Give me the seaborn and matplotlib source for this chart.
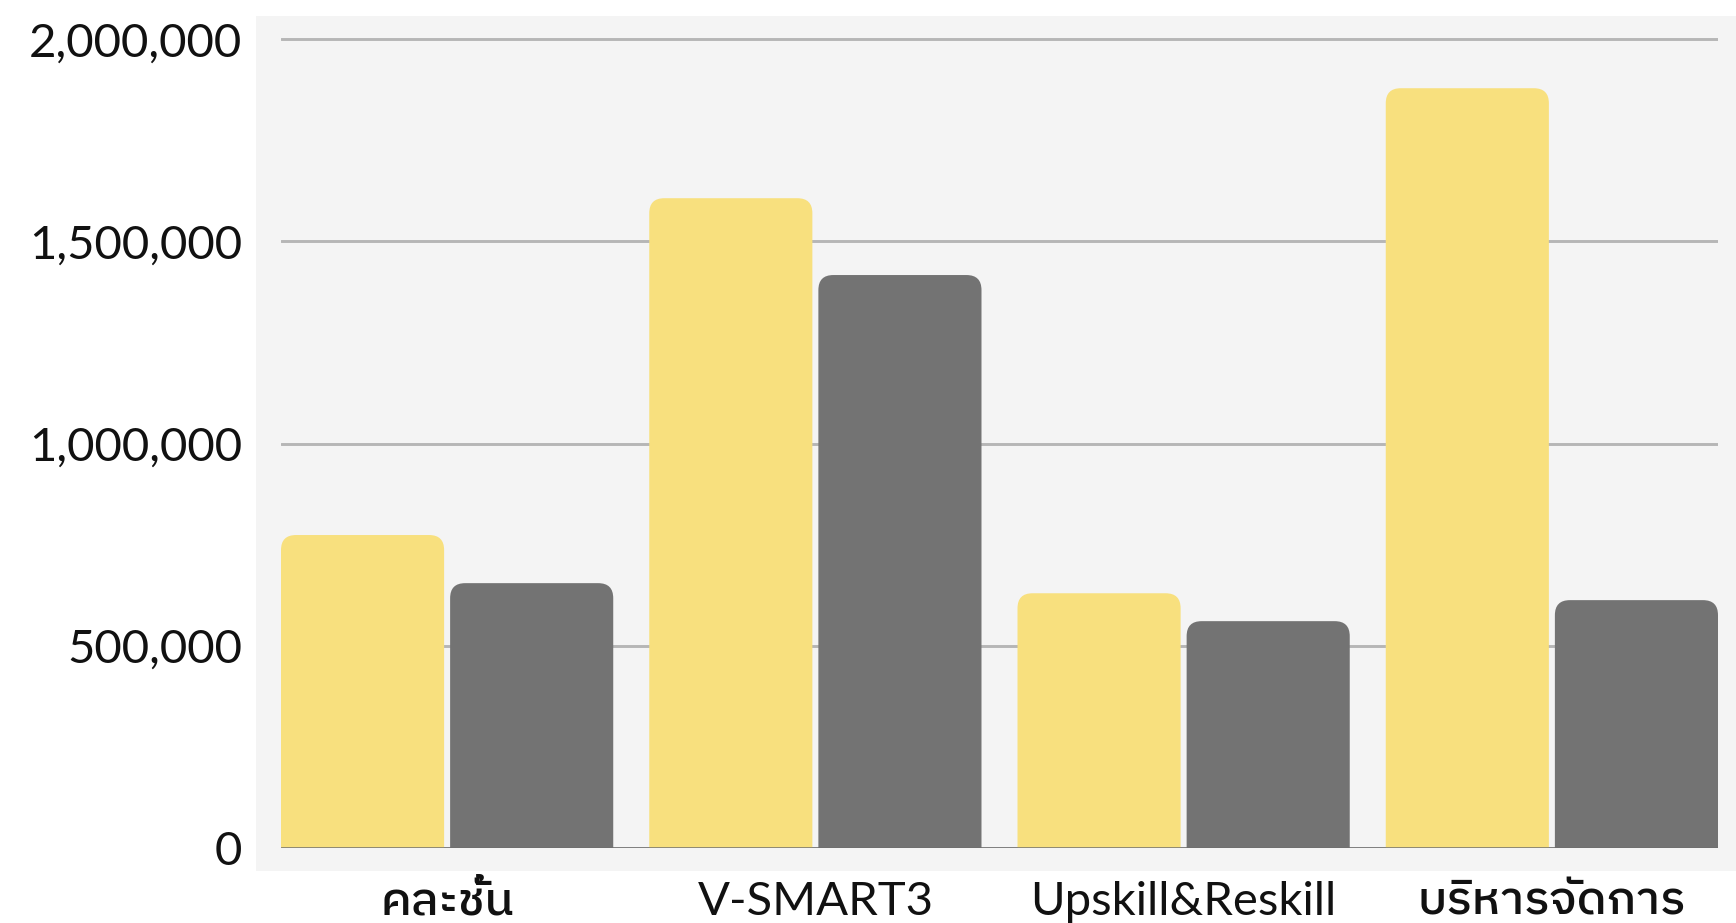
import numpy as np
import pandas as pd
import matplotlib
matplotlib.use("Agg")
import matplotlib.pyplot as plt
import seaborn as sns
from matplotlib import font_manager as fm
from matplotlib.ft2font import FT2Font
from matplotlib.patches import FancyBboxPatch, Rectangle
from matplotlib.ticker import FuncFormatter

# ---------------- data ----------------
categories = ["คละชั้น", "V-SMART3", "Upskill&Reskill", "บริหารจัดการ"]
series_names = ["ชุดที่ 1", "ชุดที่ 2"]
series_1 = [774000, 1607000, 630000, 1879000]
series_2 = [655000, 1417000, 561000, 613000]
y_ticks = [0, 500000, 1000000, 1500000, 2000000]
colors = ["#F8E07E", "#737373"]

# ---------------- fonts ----------------
def find_thai_family():
    best = None
    for f in fm.fontManager.ttflist:
        try:
            cm = FT2Font(f.fname).get_charmap()
        except Exception:
            continue
        if 0x0E04 in cm and 0x0E0A in cm and 0x0E19 in cm:
            score = 0
            if "thai" in f.name.lower():
                score += 2
            if "looped" in f.name.lower():
                score -= 1
            if best is None or score > best[0]:
                best = (score, f.name)
    return best[1] if best else "DejaVu Sans"

thai_family = find_thai_family()
families = ["Lato", thai_family, "DejaVu Sans"]

sns.set_theme(style="white")
plt.rcParams["font.family"] = families

# ---------------- figure ----------------
W, H = 1736, 923
fig = plt.figure(figsize=(W / 100, H / 100), dpi=100)

# light grey plotting panel (behind the axes)
fig.patches.append(Rectangle((256 / W, (H - 871) / H), (W - 256) / W, (871 - 16) / H,
                             transform=fig.transFigure, facecolor="#F4F4F4",
                             edgecolor="none", zorder=-5))

ax_left, ax_right = 281, 1718
ax_bottom, ax_top = 848, 20
ax = fig.add_axes([ax_left / W, (H - ax_bottom) / H,
                   (ax_right - ax_left) / W, (ax_bottom - ax_top) / H])
ax.set_facecolor("none")
ax.set_zorder(2)

df = pd.DataFrame({
    "category": categories * 2,
    "series": [series_names[0]] * 4 + [series_names[1]] * 4,
    "value": series_1 + series_2,
})

sns.barplot(data=df, x="category", y="value", hue="series", order=categories,
            hue_order=series_names, palette=colors, saturation=1, width=0.9185,
            gap=0.0355, legend=False, ax=ax, linewidth=0, edgecolor="none",
            zorder=2)

# x-limits from the bars themselves
bars = [p for p in ax.patches]
x0 = min(p.get_x() for p in bars)
x1 = max(p.get_x() + p.get_width() for p in bars)
ax.set_xlim(x0, x1)

px_per_unit = (ax_bottom - 39.3) / y_ticks[-1]
ax.set_ylim(0, y_ticks[-1] + (39.3 - ax_top) / px_per_unit)

# rounded tops
xpp = (x1 - x0) / (ax_right - ax_left)     # x data per pixel
ypp = 1 / px_per_unit                       # y data per pixel
aspect = ypp / xpp
r_px = 15
r_x = r_px * xpp
r_y = r_px * ypp
for p in bars:
    x, w, h = p.get_x(), p.get_width(), p.get_height()
    fc = p.get_facecolor()
    p.remove()
    fb = FancyBboxPatch((x, -r_y * 2), w, h + r_y * 2,
                        boxstyle=f"round,pad=0,rounding_size={r_x}",
                        mutation_aspect=aspect, facecolor=fc, edgecolor="none",
                        linewidth=0, zorder=2)
    ax.add_patch(fb)

# grid & axes styling
ax.set_yticks(y_ticks)
ax.yaxis.set_major_formatter(FuncFormatter(lambda v, _: f"{v:,.0f}"))
ax.grid(axis="y", color="#B6B6B6", linewidth=2.1, zorder=1)
ax.grid(axis="x", visible=False)
ax.set_axisbelow(True)
for s in ax.spines.values():
    s.set_visible(False)
ax.axhline(0, color="#6F6F6F", linewidth=1.8, zorder=3)

ax.set_xlabel("")
ax.set_ylabel("")
ax.tick_params(axis="y", length=0, pad=28, labelsize=34, labelcolor="#111111")
ax.tick_params(axis="x", length=0, pad=48, labelsize=34, labelcolor="#111111")
for lab in ax.get_xticklabels():
    lab.set_verticalalignment("baseline")
    if any("\u0e00" <= ch <= "\u0e7f" for ch in lab.get_text()):
        lab.set_fontweight("medium")

fig.savefig("out.png", dpi=100)
